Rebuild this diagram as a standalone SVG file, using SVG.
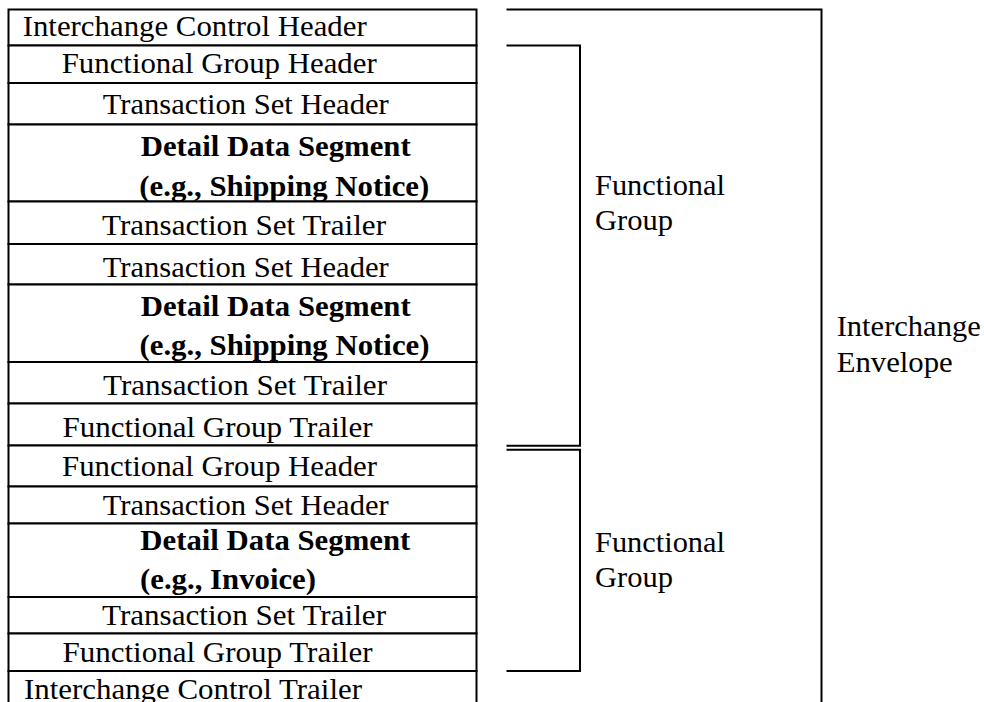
<svg xmlns="http://www.w3.org/2000/svg" width="984" height="702" viewBox="0 0 984 702">
<style>
  .row { fill: #ffffff; stroke: #000000; stroke-width: 2; }
  .t { font-family: "Liberation Serif", "Times New Roman", serif; font-size: 29px; fill: #000000; }
  .b { font-weight: bold; }
  .br { fill: none; stroke: #000000; stroke-width: 2; }
</style>
<rect x="0" y="0" width="984" height="702" fill="#ffffff"/>
<g id="table">
  <g id="icHeader"><rect class="row" x="8.5" y="9.5" width="468" height="36"/><text class="t" x="22.7" y="36" textLength="344" lengthAdjust="spacingAndGlyphs">Interchange Control Header</text></g>
  <g id="fgHeader1"><rect class="row" x="8.5" y="45.5" width="468" height="37.5"/><text class="t" x="61.7" y="73" textLength="315" lengthAdjust="spacingAndGlyphs">Functional Group Header</text></g>
  <g id="tsHeader1"><rect class="row" x="8.5" y="83" width="468" height="41.5"/><text class="t" x="102.7" y="113.5" textLength="286" lengthAdjust="spacingAndGlyphs">Transaction Set Header</text></g>
  <g id="detail1"><rect class="row" x="8.5" y="124.5" width="468" height="77"/><text class="t b" x="140.7" y="155.5" textLength="270" lengthAdjust="spacingAndGlyphs">Detail Data Segment</text><text class="t b" x="139.3" y="195.5" textLength="290" lengthAdjust="spacingAndGlyphs">(e.g., Shipping Notice)</text></g>
  <g id="tsTrailer1"><rect class="row" x="8.5" y="201.5" width="468" height="42.5"/><text class="t" x="102" y="235" textLength="284" lengthAdjust="spacingAndGlyphs">Transaction Set Trailer</text></g>
  <g id="tsHeader2"><rect class="row" x="8.5" y="244" width="468" height="40.5"/><text class="t" x="102.7" y="276.5" textLength="286" lengthAdjust="spacingAndGlyphs">Transaction Set Header</text></g>
  <g id="detail2"><rect class="row" x="8.5" y="284.5" width="468" height="77.5"/><text class="t b" x="140.7" y="315.5" textLength="270" lengthAdjust="spacingAndGlyphs">Detail Data Segment</text><text class="t b" x="139.5" y="355" textLength="290" lengthAdjust="spacingAndGlyphs">(e.g., Shipping Notice)</text></g>
  <g id="tsTrailer2"><rect class="row" x="8.5" y="362" width="468" height="41.5"/><text class="t" x="103" y="395" textLength="284" lengthAdjust="spacingAndGlyphs">Transaction Set Trailer</text></g>
  <g id="fgTrailer1"><rect class="row" x="8.5" y="403.5" width="468" height="42"/><text class="t" x="62.5" y="436.5" textLength="310" lengthAdjust="spacingAndGlyphs">Functional Group Trailer</text></g>
  <g id="fgHeader2"><rect class="row" x="8.5" y="445.5" width="468" height="41"/><text class="t" x="62" y="475.5" textLength="315" lengthAdjust="spacingAndGlyphs">Functional Group Header</text></g>
  <g id="tsHeader3"><rect class="row" x="8.5" y="486.5" width="468" height="37"/><text class="t" x="102.7" y="515" textLength="286" lengthAdjust="spacingAndGlyphs">Transaction Set Header</text></g>
  <g id="detail3"><rect class="row" x="8.5" y="523.5" width="468" height="73.5"/><text class="t b" x="140.3" y="550" textLength="270" lengthAdjust="spacingAndGlyphs">Detail Data Segment</text><text class="t b" x="140" y="588.5" textLength="176" lengthAdjust="spacingAndGlyphs">(e.g., Invoice)</text></g>
  <g id="tsTrailer3"><rect class="row" x="8.5" y="597" width="468" height="36.5"/><text class="t" x="102" y="625" textLength="284" lengthAdjust="spacingAndGlyphs">Transaction Set Trailer</text></g>
  <g id="fgTrailer2"><rect class="row" x="8.5" y="633.5" width="468" height="37.5"/><text class="t" x="62.5" y="662" textLength="310" lengthAdjust="spacingAndGlyphs">Functional Group Trailer</text></g>
  <g id="icTrailer"><rect class="row" x="8.5" y="671" width="468" height="45"/><text class="t" x="24" y="698.5" textLength="338" lengthAdjust="spacingAndGlyphs">Interchange Control Trailer</text></g>
</g>
<g id="connectors">
  <path class="br" d="M506.5,9.5 H821.5 V704"/>
  <path class="br" d="M506.5,45.5 H580 V445.7 H506.5"/>
  <path class="br" d="M506.5,449.7 H580 V671 H506.5"/>
</g>
<g id="functionalGroup1"><text class="t" x="595" y="195" textLength="130" lengthAdjust="spacingAndGlyphs">Functional</text><text class="t" x="595" y="230" textLength="78" lengthAdjust="spacingAndGlyphs">Group</text></g>
<g id="functionalGroup2"><text class="t" x="595" y="551.7" textLength="130" lengthAdjust="spacingAndGlyphs">Functional</text><text class="t" x="595" y="587.3" textLength="78" lengthAdjust="spacingAndGlyphs">Group</text></g>
<g id="interchangeEnvelope"><text class="t" x="836.7" y="336" textLength="144" lengthAdjust="spacingAndGlyphs">Interchange</text><text class="t" x="836.7" y="371.7" textLength="116" lengthAdjust="spacingAndGlyphs">Envelope</text></g>
</svg>
